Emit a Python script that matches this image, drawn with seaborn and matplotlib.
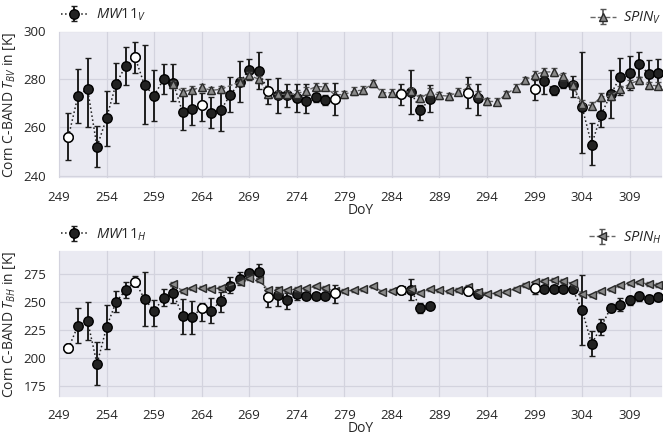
import matplotlib
matplotlib.use("Agg")
import matplotlib.pyplot as plt
import numpy as np
import seaborn as sns

nan = np.nan

# day of year for the MW11 series (gaps are NaN)
days = list(range(250, 313))
open_days = [250, 257, 264, 271, 278, 285, 292, 299]

mw11_v = [256.2, 273.1, 276.0, 252.0, 263.8, 278.0, 285.3, 288.9, 277.4, 273.1,
          279.9, 278.5, 266.2, 267.4, 269.2, 266.1, 267.1, 273.3, 278.6, 283.9,
          283.2, 275.1, 273.3, 273.3, 272.2, 271.0, 272.5, 271.5, 271.8,
          nan, nan, nan, nan, nan, nan,
          273.9, 274.6, 267.1, 271.8, nan, nan, nan, 274.3, 272.1,
          nan, nan, nan, nan, nan,
          276.0, 279.2, 275.4, 278.5, 277.4, 268.3, 252.9, 265.3, 273.6, 280.8,
          282.4, 286.0, 282.1, 282.4]
mw11_v_lo = [246.5, 261.8, 260.0, 243.5, 252.4, 270.1, 277.5, 282.4, 261.2, 262.5,
             273.6, 270.7, 258.8, 260.8, 262.5, 259.6, 258.6, 266.2, 270.6, 279.6,
             275.8, 269.7, 265.8, 268.5, 266.4, 265.8, 270.6, 269.3, 265.0,
             nan, nan, nan, nan, nan, nan,
             269.4, 265.6, 262.9, 266.4, nan, nan, nan, 268.0, 265.3,
             nan, nan, nan, nan, nan,
             271.5, 273.6, 273.2, 276.4, 272.6, 249.3, 244.4, 260.0, 264.0, 273.5,
             275.4, 281.0, 276.7, 277.2]
mw11_v_hi = [266.0, 284.2, 288.7, 260.6, 275.0, 286.4, 293.0, 295.4, 293.9, 283.5,
             286.1, 286.1, 273.9, 276.0, 274.4, 272.6, 276.1, 280.8, 287.5, 288.2,
             291.0, 280.0, 280.4, 277.9, 277.9, 277.9, 274.3, 273.2, 278.5,
             nan, nan, nan, nan, nan, nan,
             277.8, 283.6, 269.2, 277.4, nan, nan, nan, 281.0, 278.0,
             nan, nan, nan, nan, nan,
             279.4, 282.4, 277.1, 280.1, 281.2, 291.0, 261.8, 270.8, 283.5, 288.5,
             289.3, 291.0, 287.8, 288.2]

mw11_h = [208.8, 229.0, 233.5, 194.6, 227.5, 250.1, 260.5, 268.2, 252.7, 242.1,
          253.6, 258.1, 237.6, 236.4, 245.0, 242.1, 251.3, 264.0, 270.5, 275.9,
          277.1, 254.2, 256.3, 251.6, 256.9, 255.4, 255.7, 255.1, 257.8,
          nan, nan, nan, nan, nan, nan,
          260.5, 261.1, 245.1, 246.3, nan, nan, nan, 260.2, 257.2,
          nan, nan, nan, nan, nan,
          262.3, 261.4, 261.4, 261.7, 261.4, 242.8, 212.6, 228.0, 244.8, 247.8,
          251.6, 255.2, 253.1, 254.6]
mw11_h_lo = [205.3, 213.6, 216.5, 175.6, 207.9, 240.9, 253.9, 264.0, 228.7, 229.0,
             246.2, 249.2, 221.6, 221.6, 232.9, 231.4, 241.5, 258.4, 265.5, 272.3,
             271.4, 245.9, 246.8, 243.8, 251.6, 253.5, 254.0, 253.4, 249.5,
             nan, nan, nan, nan, nan, nan,
             258.5, 251.9, 240.1, 244.5, nan, nan, nan, 258.5, 255.5,
             nan, nan, nan, nan, nan,
             257.2, 259.6, 259.6, 260.0, 259.5, 211.7, 201.6, 220.3, 241.3, 241.6,
             247.8, 251.3, 250.1, 251.3]
mw11_h_hi = [212.7, 244.7, 250.4, 214.2, 247.1, 259.6, 267.6, 273.5, 276.5, 252.2,
             261.6, 264.0, 253.0, 251.3, 249.2, 253.6, 258.7, 272.3, 276.5, 279.5,
             283.9, 259.6, 263.1, 258.1, 261.0, 257.3, 257.4, 256.8, 265.2,
             nan, nan, nan, nan, nan, nan,
             262.5, 270.3, 249.0, 248.0, nan, nan, nan, 262.0, 259.0,
             nan, nan, nan, nan, nan,
             266.1, 263.2, 263.2, 263.4, 263.3, 273.8, 223.8, 235.1, 248.4, 254.0,
             255.5, 258.7, 256.4, 257.8]

# SPIN model days (no value on 267)
spin_days = [261, 262, 263, 264, 265, 266] + list(range(268, 313))
spin_v = [277.8, 274.6, 275.6, 276.5, 275.3, 275.7, 278.8, 281.5, 279.9, 273.6,
          273.6, 273.6, 273.9, 275.1, 276.8, 276.8, 273.4, 273.6, 275.0, 275.4,
          278.2, 274.3, 274.3, 274.2, 274.9, 272.0, 274.6, 273.2, 272.9, 274.7,
          276.3, 273.6, 270.8, 270.6, 273.6, 276.4, 279.4, 281.8, 282.9, 282.9,
          281.1, 277.4, 269.7, 269.0, 272.6, 272.9, 275.7, 278.0, 279.4, 277.4,
          277.2]
spin_h = [266.1, 259.9, 262.2, 262.8, 261.9, 262.5, 267.6, 271.4, 269.7, 261.0,
          260.8, 260.5, 261.6, 262.2, 264.0, 262.5, 260.0, 259.9, 260.5, 261.4,
          264.1, 259.3, 260.2, 260.5, 261.4, 258.4, 261.4, 260.5, 259.6, 260.8,
          263.5, 259.3, 257.5, 257.8, 259.3, 262.0, 265.2, 267.6, 269.1, 269.7,
          268.8, 266.7, 257.2, 256.1, 259.6, 261.4, 264.9, 266.7, 267.6, 266.1,
          265.2]
spin_err = 1.5

sns.set_theme(style="darkgrid", rc={"axes.facecolor": "#eaeaf2",
                                    "grid.color": "#d3d3de",
                                    "grid.linewidth": 0.9})
plt.rcParams["font.family"] = ["Open Sans", "DejaVu Sans"]
plt.rcParams["mathtext.fontset"] = "custom"
plt.rcParams["mathtext.rm"] = "Open Sans"
plt.rcParams["mathtext.it"] = "Open Sans:italic"
plt.rcParams["mathtext.bf"] = "Open Sans:bold"


def draw_panel(ax, mw, lo, hi, spin, pol, ylim, yticks, marker):
    mw = np.array(mw)
    yerr = [mw - np.array(lo), np.array(hi) - mw]
    h_mw = ax.errorbar(days, mw, yerr=yerr, fmt="o", ls=":", color="#1e1e1e",
                       mfc="#222222", mec="black", ms=6.8, lw=1.1,
                       elinewidth=1.4, capsize=2, zorder=3)
    h_spin = ax.errorbar(spin_days, spin, yerr=spin_err, fmt=marker, ls="--",
                         color="#666666", mfc="#8a8a8a", mec="#2a2a2a", ms=6,
                         lw=1.0, elinewidth=1.2, capsize=2, ecolor="#555555",
                         zorder=4)
    is_open = [d in open_days for d in days]
    sns.scatterplot(x=np.array(days)[is_open], y=mw[is_open], ax=ax, s=46,
                    color="white", edgecolor="black", linewidth=1.0, zorder=5)
    ax.set_xlim(248.9, 312.5)
    ax.set_ylim(*ylim)
    ax.set_xticks(range(249, 313, 5))
    ax.set_yticks(yticks)
    ax.tick_params(labelsize=9.5, pad=2.5)
    ax.set_xlabel("DoY", fontsize=10, labelpad=-1)
    ax.set_ylabel(rf"Corn C-BAND $T_{{B{pol}}}$ in [K]", fontsize=10, labelpad=4)
    leg1 = ax.legend([h_mw], [rf"$\mathit{{MW11}}_{pol}$"], loc="lower left",
                     bbox_to_anchor=(-0.01, 0.99), frameon=False, fontsize=10.5,
                     handlelength=1.8, handletextpad=0.6, borderaxespad=0.2)
    ax.add_artist(leg1)
    ax.legend([h_spin], [rf"$\mathit{{SPIN}}_{pol}$"], loc="lower right",
              bbox_to_anchor=(1.012, 0.97), frameon=False, fontsize=10.5,
              handlelength=1.8, handletextpad=0.5, borderaxespad=0.2)


fig = plt.figure(figsize=(6.63, 4.36), dpi=100)
ax1 = fig.add_axes([0.0875, 0.589, 0.9125, 0.341])
ax2 = fig.add_axes([0.0875, 0.088, 0.9125, 0.338])

draw_panel(ax1, mw11_v, mw11_v_lo, mw11_v_hi, spin_v, "V",
           (238.6, 300), [240, 260, 280, 300], "^")
draw_panel(ax2, mw11_h, mw11_h_lo, mw11_h_hi, spin_h, "H",
           (164.6, 296.3), [175, 200, 225, 250, 275], "<")

fig.savefig("out.png", dpi=100)
